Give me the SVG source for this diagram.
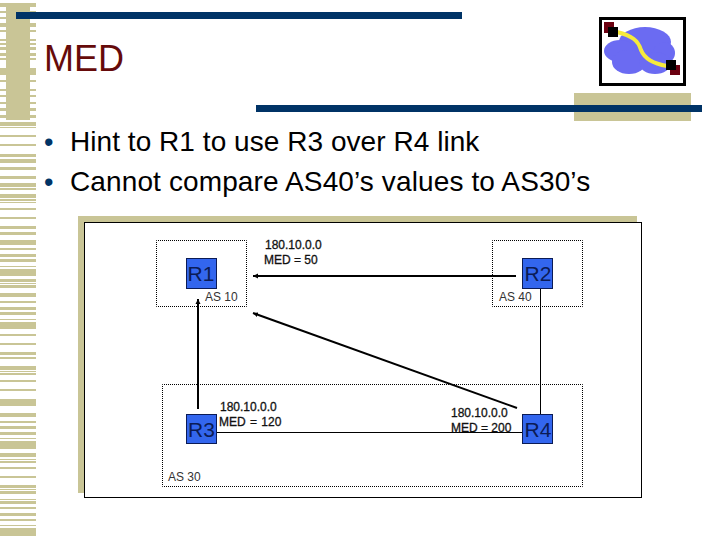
<svg xmlns="http://www.w3.org/2000/svg" width="720" height="540" viewBox="0 0 720 540">
<style>
text{font-family:"Liberation Sans",Arial,sans-serif}
.k{fill:#c9c596}
.n{fill:#003366}
.as{fill:none;stroke:#000;stroke-width:1;stroke-dasharray:1 1;stroke-dashoffset:.5}
.r{fill:#3366ee;stroke:#0b1b55;stroke-width:1}
.rt{font-size:21px;fill:#0b1b55;text-anchor:middle}
.l{font-size:12px;fill:#111;stroke:#111;stroke-width:.3}
.a{font-size:12px;fill:#333}
.b{font-size:28px;fill:#000}
.dot{font-size:27px;fill:#003366}
.thick{stroke:#000;stroke-width:2;fill:none}
.thin{stroke:#000;stroke-width:1;fill:none}
.head{fill:#000}
</style>
<defs>
<marker id="arr" markerUnits="userSpaceOnUse" markerWidth="6" markerHeight="6" refX="5" refY="3" orient="auto"><path class="head" d="M0 .5L5 3L0 5.500z"/></marker>
</defs>
<rect width="720" height="540" fill="#fff"/>
<g id="stripes" class="k">
<path d="M6 3h24v117H6z"/>
<path d="M0 3h36v4H0zM0 11h36v2H0zM0 17h36v2H0zM0 23h36v4H0zM0 30h36v2H0zM0 39h36v2H0zM0 43h36v2H0zM0 47h36v3H0zM0 53h36v3H0zM0 58h36v2H0zM0 68h36v7H0zM0 80h36v2H0zM0 89h36v2H0zM0 95h36v2H0zM0 102h36v2H0zM0 108h36v3H0zM0 115h36v3H0z"/>
<path d="M0 122h36v4H0zM0 127h36v1H0zM0 135h36v2H0zM0 144h36v2H0zM0 154h36v3H0zM0 159h36v4H0zM0 167h36v3H0zM0 176h36v3H0z"/>
<path d="M0 183h36v4H0zM0 188h36v2H0zM0 194h36v4H0zM0 199h36v2H0zM0 202h36v1H0zM0 208h36v2H0zM0 217h36v2H0zM0 226h36v3H0zM0 232h36v3H0zM0 240h36v5H0zM0 248h36v2H0zM0 254h36v3H0zM0 259h36v3H0zM0 266h36v1H0zM0 269h36v7H0zM0 279h36v3H0zM0 283h36v1H0zM0 285h36v3H0zM0 293h36v4H0zM0 301h36v2H0zM0 307h36v3H0zM0 312h36v3H0zM0 319h36v1H0zM0 322h36v7H0zM0 334h36v2H0zM0 343h36v2H0zM0 352h36v3H0zM0 357h36v2H0z"/>
<path d="M0 366h36v4H0zM0 371h36v1H0zM0 373h36v2H0zM0 380h36v2H0zM0 389h36v2H0zM0 399h36v7H0zM0 413h36v4H0zM0 421h36v2H0zM0 426h36v3H0zM0 432h36v3H0zM0 438h36v1H0zM0 441h36v8H0zM0 453h36v4H0zM0 459h36v1H0zM0 461h36v2H0zM0 467h36v2H0zM0 476h36v2H0zM0 485h36v3H0zM0 489h36v1H0zM0 491h36v3H0zM0 499h36v1H0zM0 501h36v3H0zM0 507h36v2H0zM0 513h36v3H0zM0 519h36v2H0zM0 525h36v1H0zM0 528h36v8H0z"/>
</g>
<rect class="n" x="16" y="12" width="446" height="7"/>
<rect class="k" x="574" y="93" width="117" height="28"/>
<rect class="n" x="256" y="105" width="446" height="7"/>
<g id="logo">
<rect x="600.500" y="18.500" width="84" height="66" fill="#fff" stroke="#000" stroke-width="3"/>
<g fill="#6b6bf2">
<ellipse cx="645" cy="42" rx="26" ry="15"/>
<ellipse cx="620" cy="51" rx="16" ry="11"/>
<ellipse cx="664" cy="53" rx="11" ry="11"/>
<ellipse cx="629" cy="62" rx="17" ry="12"/>
<ellipse cx="655" cy="63" rx="16" ry="11"/>
</g>
<rect x="604" y="22" width="10" height="11" fill="#6b0010"/>
<rect x="670" y="65" width="10" height="10" fill="#6b0010"/>
<path d="M617 32C632 36 638 40 641 50C645 60 655 64 667 66" fill="none" stroke="#f6ea3c" stroke-width="4"/>
<rect x="608" y="27" width="10" height="10" fill="#000"/>
<rect x="666" y="60" width="10" height="10" fill="#000"/>
</g>
<text x="44" y="71" font-size="36" fill="#660a0a">MED</text>
<g id="bullets">
<text class="dot" x="44" y="151">•</text>
<text class="b" x="70" y="151" letter-spacing=".05">Hint to R1 to use R3 over R4 link</text>
<text class="dot" x="44" y="191">•</text>
<text class="b" x="70" y="191" letter-spacing=".12">Cannot compare AS40’s values to AS30’s</text>
</g>
<rect class="k" x="78" y="216" width="559" height="277"/>
<rect x="84.500" y="222.500" width="557" height="275" fill="#fff" stroke="#000"/>
<g id="as-boxes">
<rect class="as" x="156.500" y="240.500" width="90" height="66"/>
<rect class="as" x="492.500" y="240.500" width="90" height="66"/>
<rect class="as" x="162.500" y="384.500" width="420" height="102"/>
</g>
<g id="connectors">
<path class="thick" d="M516 276H253" marker-end="url(#arr)"/>
<path class="thick" d="M517 408L253 313" marker-end="url(#arr)"/>
<path class="thick" d="M198 409V299" marker-end="url(#arr)"/>
<path class="thin" d="M217 432.500H522"/>
<path class="thin" d="M540.500 289V414"/>
</g>
<g id="R1"><rect class="r" x="186.500" y="258.500" width="30" height="30"/><text class="rt" x="201" y="281">R1</text><text class="a" x="205" y="301">AS 10</text></g>
<g id="R2"><rect class="r" x="522.500" y="258.500" width="30" height="30"/><text class="rt" x="538" y="281">R2</text><text class="a" x="499" y="301">AS 40</text></g>
<g id="R3"><rect class="r" x="186.500" y="414.500" width="30" height="29"/><text class="rt" x="201.500" y="437">R3</text><text class="a" x="168" y="481">AS 30</text></g>
<g id="R4"><rect class="r" x="522.500" y="414.500" width="30" height="29"/><text class="rt" x="538" y="437">R4</text></g>
<g id="labels">
<text class="l" x="265" y="249">180.10.0.0</text><text class="l" x="264" y="264">MED = 50</text>
<text class="l" x="220" y="411">180.10.0.0</text><text class="l" x="219" y="426" word-spacing="1">MED = 120</text>
<text class="l" x="451" y="417">180.10.0.0</text><text class="l" x="451" y="432">MED = 200</text>
</g>
</svg>
